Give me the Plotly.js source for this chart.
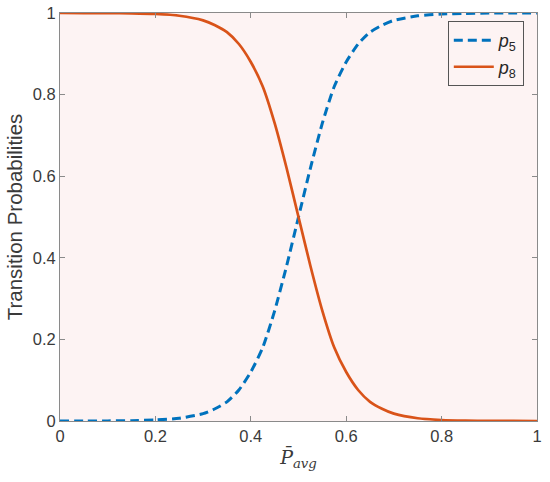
<!DOCTYPE html>
<html>
<head>
<meta charset="utf-8">
<script src="https://cdn.plot.ly/plotly-3.0.1.min.js"></script>
<style>
  html, body { margin: 0; padding: 0; background: #fff; }
  #chart { width: 550px; height: 482px; }
</style>
</head>
<body>
<div id="chart"></div>
<script>
// values
const pAvg = [0, 0.05, 0.1, 0.15, 0.2, 0.25, 0.3, 0.325, 0.35, 0.375, 0.4, 0.425, 0.45, 0.475,
              0.5, 0.525, 0.55, 0.575, 0.6, 0.625, 0.65, 0.675, 0.7, 0.75, 0.8, 0.85, 0.9, 0.95, 1];
const p5 = [0, 0.0001, 0.0003, 0.0009, 0.0025, 0.0067, 0.018, 0.03, 0.047, 0.076, 0.12, 0.18, 0.27, 0.38,
            0.5, 0.62, 0.73, 0.82, 0.88, 0.924, 0.953, 0.97, 0.982, 0.993, 0.9975, 0.999, 0.9997, 0.9999, 1];
const p8 = [1, 0.9999, 0.9997, 0.9991, 0.9975, 0.9933, 0.982, 0.97, 0.953, 0.924, 0.88, 0.82, 0.73, 0.62,
            0.5, 0.38, 0.27, 0.18, 0.12, 0.076, 0.047, 0.03, 0.018, 0.0067, 0.0025, 0.0009, 0.0003, 0.0001, 0];
const tickVals = [0, 0.2, 0.4, 0.6, 0.8, 1];
const tickText = ['0', '0.2', '0.4', '0.6', '0.8', '1'];

const traces = [
    {
        x: pAvg,
        y: p5,
        mode: 'lines',
        name: '<i>p</i><sub>5</sub>',
        line: {color: '#0072BD', width: 3, dash: '9px,5px', shape: 'spline', smoothing: 0.6}
    },
    {
        x: pAvg,
        y: p8,
        mode: 'lines',
        name: '<i>p</i><sub>8</sub>',
        line: {color: '#D95319', width: 2.7, shape: 'spline', smoothing: 0.6}
    }
];

const axisCommon = {
    showgrid: false,
    zeroline: false,
    showline: true,
    linecolor: '#8a8a8a',
    linewidth: 1,
    mirror: 'ticks',
    ticks: 'inside',
    ticklen: 5,
    tickcolor: '#8a8a8a',
    tickvals: tickVals,
    ticktext: tickText,
    tickfont: {family: 'Liberation Sans, Arial, sans-serif', size: 16.5, color: '#3a3a3a'}
};

const layout = {
    width: 550,
    height: 482,
    margin: {l: 60, r: 13, t: 13, b: 61},
    paper_bgcolor: '#ffffff',
    plot_bgcolor: '#fdf3f3',
    showlegend: true,
    legend: {
        x: 0.813, y: 0.98, xanchor: 'left', yanchor: 'top',
        bgcolor: '#fdf3f3',
        bordercolor: '#555',
        borderwidth: 1,
        itemwidth: 40,
        font: {family: 'Liberation Sans, Arial, sans-serif', size: 18, color: '#262626'}
    },
    xaxis: Object.assign({}, axisCommon, {
        range: [0, 1],
        title: {
            text: '<i>P\u0304</i><sub><i>avg</i></sub>',
            font: {family: 'DejaVu Serif, Liberation Serif, serif', size: 19, color: '#3a3a3a'},
            standoff: 6
        }
    }),
    yaxis: Object.assign({}, axisCommon, {
        range: [0, 1],
        title: {
            text: 'Transition Probabilities',
            font: {family: 'Liberation Sans, Arial, sans-serif', size: 20.5, color: '#3a3a3a'},
            standoff: 4
        }
    })
};

Plotly.newPlot('chart', traces, layout, {displayModeBar: false, staticPlot: true});
</script>
</body>
</html>
